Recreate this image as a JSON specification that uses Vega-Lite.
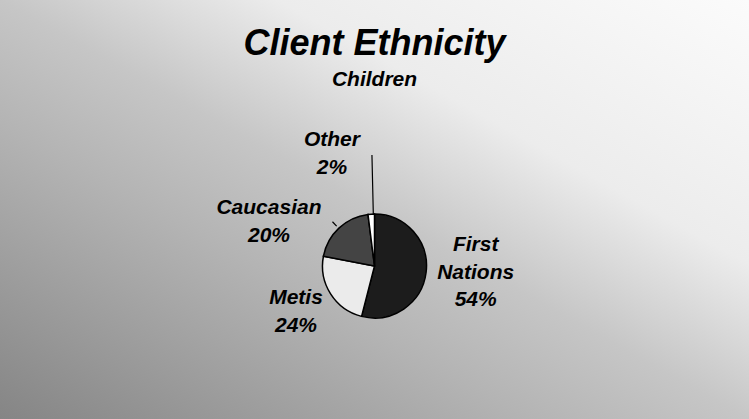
{
  "$schema": "https://vega.github.io/schema/vega-lite/v6.json",
  "width": 749,
  "height": 306,
  "autosize": {"type": "none"},
  "padding": {"left": 0, "top": 113, "right": 0, "bottom": 0},
  "background": "#c8c8c8",
  "view": {"stroke": null},
  "title": {
    "text": "Client Ethnicity",
    "subtitle": "Children",
    "anchor": "middle",
    "frame": "group",
    "font": "Liberation Sans",
    "fontSize": 36,
    "fontStyle": "italic",
    "fontWeight": "bold",
    "color": "#000000",
    "subtitleFont": "Liberation Sans",
    "subtitleFontSize": 21,
    "subtitleFontStyle": "italic",
    "subtitleFontWeight": "bold",
    "subtitleColor": "#000000",
    "subtitlePadding": 6,
    "offset": -305
  },
  "data": {
    "values": [
      {"category": "First Nations", "value": 54, "label": "First\nNations\n54%"},
      {"category": "Metis", "value": 24, "label": "Metis\n24%"},
      {"category": "Caucasian", "value": 20, "label": "Caucasian\n20%"},
      {"category": "Other", "value": 2, "label": "Other\n2%"}
    ]
  },
  "layer": [
    {
      "data": {"values": [{"bg": 1}]},
      "mark": {
        "type": "arc",
        "radius": 480,
        "theta": 0,
        "theta2": 6.2832,
        "strokeWidth": 0,
        "fill": {
          "gradient": "linear",
          "x1": 0.1099, "y1": 0.6594, "x2": 0.4818, "y2": -0.0052,
          "stops": [
            {"offset": 0, "color": "#858585"},
            {"offset": 0.355, "color": "#b4b4b4"},
            {"offset": 0.5, "color": "#c6c6c6"},
            {"offset": 0.685, "color": "#ececec"},
            {"offset": 1, "color": "#fbfbfb"}
          ]
        }
      },
      "encoding": {}
    },
    {
      "data": {"values": [{"line": "Other"}]},
      "mark": {"type": "arc", "radius": 52, "radius2": 111, "theta": -0.023, "theta2": -0.023, "fill": null, "stroke": "#000000", "strokeWidth": 1.2},
      "encoding": {}
    },
    {
      "data": {"values": [{"line": "Caucasian"}]},
      "mark": {"type": "arc", "radius": 55, "radius2": 61, "theta": -0.76, "theta2": -0.76, "fill": null, "stroke": "#000000", "strokeWidth": 1.2},
      "encoding": {}
    },
    {
      "mark": {"type": "arc", "radius": 52, "stroke": "#000000", "strokeWidth": 1.5},
      "encoding": {
        "theta": {"field": "value", "type": "quantitative", "stack": true},
        "order": {"field": "value", "sort": "descending"},
        "color": {
          "field": "category",
          "type": "nominal",
          "scale": {
            "domain": ["First Nations", "Metis", "Caucasian", "Other"],
            "range": ["#1c1c1c", "#ebebeb", "#444444", "#ffffff"]
          },
          "legend": null
        }
      }
    },
    {
      "mark": {"type": "text", "radius": 103, "dx": -1, "dy": -33.5, "font": "Liberation Sans", "fontSize": 21, "fontStyle": "italic", "fontWeight": "bold", "lineBreak": "\n", "lineHeight": 27.5, "align": "center", "baseline": "middle", "color": "#000000"},
      "encoding": {
        "theta": {"field": "value", "type": "quantitative", "stack": true},
        "order": {"field": "value", "sort": "descending"},
        "text": {"field": "label"},
        "opacity": {"condition": {"test": "datum.category === 'First Nations'", "value": 1}, "value": 0}
      }
    },
    {
      "mark": {"type": "text", "radius": 90, "dx": -2.5, "dy": -15.75, "font": "Liberation Sans", "fontSize": 21, "fontStyle": "italic", "fontWeight": "bold", "lineBreak": "\n", "lineHeight": 27.5, "align": "center", "baseline": "middle", "color": "#000000"},
      "encoding": {
        "theta": {"field": "value", "type": "quantitative", "stack": true},
        "order": {"field": "value", "sort": "descending"},
        "text": {"field": "label"},
        "opacity": {"condition": {"test": "datum.category === 'Metis'", "value": 1}, "value": 0}
      }
    },
    {
      "mark": {"type": "text", "radius": 114, "dx": -27.5, "dy": 25.25, "font": "Liberation Sans", "fontSize": 21, "fontStyle": "italic", "fontWeight": "bold", "lineBreak": "\n", "lineHeight": 27.5, "align": "center", "baseline": "middle", "color": "#000000"},
      "encoding": {
        "theta": {"field": "value", "type": "quantitative", "stack": true},
        "order": {"field": "value", "sort": "descending"},
        "text": {"field": "label"},
        "opacity": {"condition": {"test": "datum.category === 'Caucasian'", "value": 1}, "value": 0}
      }
    },
    {
      "mark": {"type": "text", "radius": 112, "dx": -35.5, "dy": -13.75, "font": "Liberation Sans", "fontSize": 21, "fontStyle": "italic", "fontWeight": "bold", "lineBreak": "\n", "lineHeight": 27.5, "align": "center", "baseline": "middle", "color": "#000000"},
      "encoding": {
        "theta": {"field": "value", "type": "quantitative", "stack": true},
        "order": {"field": "value", "sort": "descending"},
        "text": {"field": "label"},
        "opacity": {"condition": {"test": "datum.category === 'Other'", "value": 1}, "value": 0}
      }
    }
  ]
}
